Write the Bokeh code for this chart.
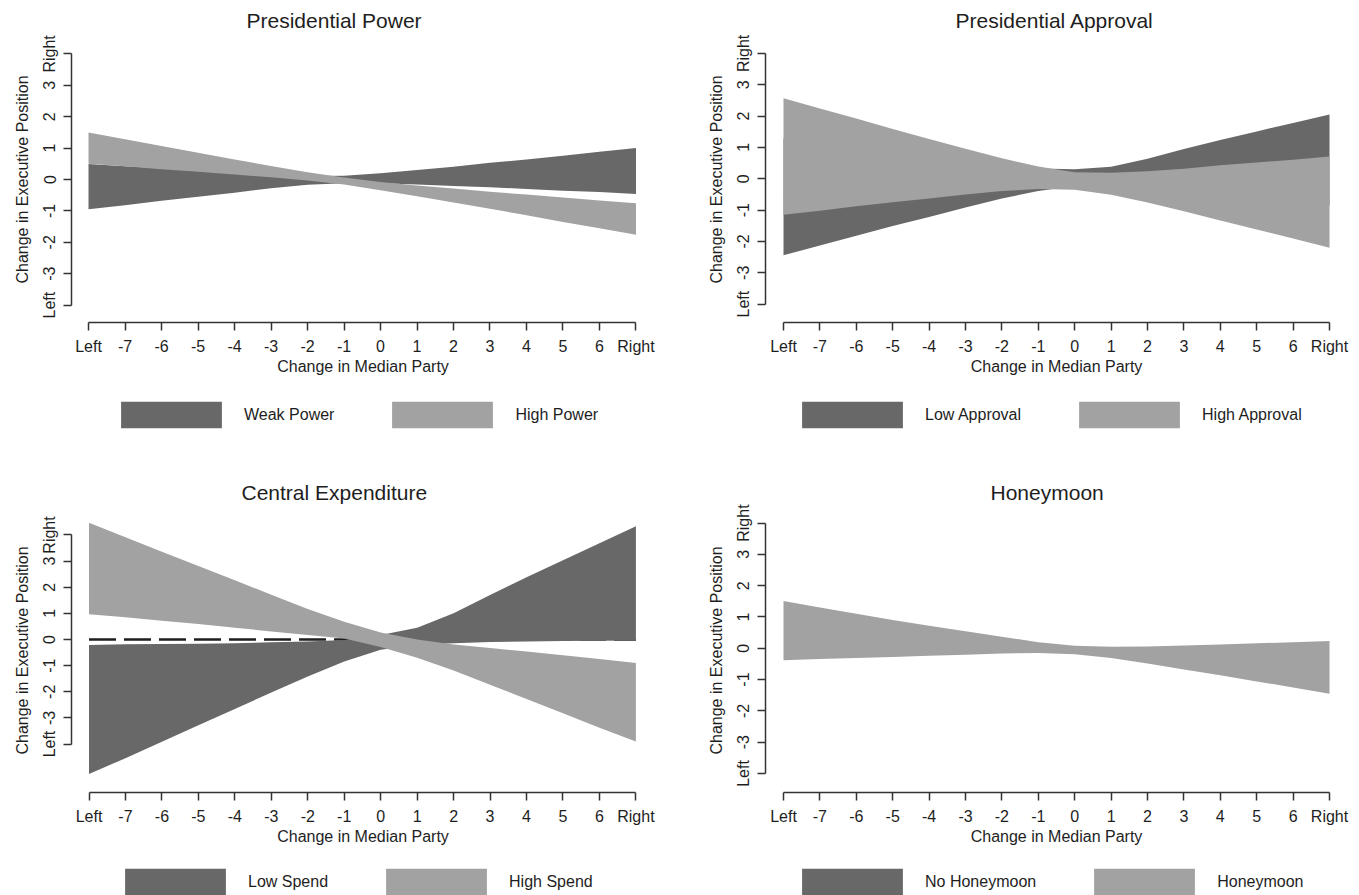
from bokeh.plotting import figure
from bokeh.models import FixedTicker, Legend, LegendItem
from bokeh.layouts import column, row
from bokeh.embed import file_html
from bokeh.resources import INLINE

# ---------------- data ----------------
x_pos = [-8, -7, -6, -5, -4, -3, -2, -1, 0, 1, 2, 3, 4, 5, 6, 7]
x_tick_labels = ["Left", "-7", "-6", "-5", "-4", "-3", "-2", "-1", "0", "1", "2", "3", "4", "5", "6", "Right"]
y_ticks = [-4, -3, -2, -1, 0, 1, 2, 3, 4]
y_tick_labels = ["Left", "-3", "-2", "-1", "0", "1", "2", "3", "Right"]

# Presidential Power
weak_power_upper = [0.49, 0.42, 0.36, 0.29, 0.22, 0.16, 0.11, 0.12, 0.20, 0.30, 0.41, 0.53, 0.64, 0.76, 0.88, 1.00]
weak_power_lower = [-0.95, -0.82, -0.68, -0.55, -0.42, -0.28, -0.17, -0.12, -0.12, -0.16, -0.21, -0.25, -0.30, -0.36, -0.40, -0.46]
high_power_upper = [1.50, 1.28, 1.07, 0.85, 0.64, 0.43, 0.23, 0.06, -0.08, -0.19, -0.29, -0.39, -0.48, -0.57, -0.67, -0.76]
high_power_lower = [0.50, 0.42, 0.33, 0.25, 0.16, 0.07, -0.03, -0.16, -0.34, -0.53, -0.73, -0.93, -1.14, -1.35, -1.55, -1.76]

# Presidential Approval
low_approval_upper = [1.28, 1.13, 0.98, 0.83, 0.68, 0.54, 0.41, 0.33, 0.30, 0.38, 0.64, 0.95, 1.24, 1.51, 1.78, 2.05]
low_approval_lower = [-2.44, -2.13, -1.82, -1.51, -1.22, -0.92, -0.63, -0.39, -0.23, -0.22, -0.29, -0.39, -0.52, -0.63, -0.74, -0.86]
high_approval_upper = [2.57, 2.24, 1.92, 1.59, 1.27, 0.96, 0.65, 0.39, 0.21, 0.19, 0.24, 0.32, 0.43, 0.52, 0.61, 0.71]
high_approval_lower = [-1.15, -1.02, -0.88, -0.75, -0.63, -0.50, -0.39, -0.33, -0.35, -0.51, -0.76, -1.04, -1.33, -1.62, -1.91, -2.20]

# Central Expenditure
low_spend_upper = [-0.21, -0.18, -0.17, -0.16, -0.14, -0.11, -0.08, -0.02, 0.17, 0.45, 1.00, 1.70, 2.38, 3.03, 3.68, 4.33]
low_spend_lower = [-5.15, -4.54, -3.91, -3.28, -2.66, -2.03, -1.42, -0.84, -0.39, -0.20, -0.14, -0.10, -0.08, -0.06, -0.05, -0.04]
high_spend_upper = [4.47, 3.91, 3.36, 2.81, 2.27, 1.71, 1.17, 0.68, 0.27, 0.00, -0.19, -0.33, -0.46, -0.60, -0.75, -0.90]
high_spend_lower = [0.97, 0.85, 0.72, 0.59, 0.45, 0.31, 0.17, 0.04, -0.29, -0.70, -1.19, -1.73, -2.28, -2.82, -3.38, -3.90]

# Honeymoon (the "No Honeymoon" band is hidden under the "Honeymoon" band)
honeymoon_upper = [1.51, 1.30, 1.10, 0.90, 0.72, 0.54, 0.37, 0.19, 0.08, 0.05, 0.06, 0.09, 0.12, 0.16, 0.19, 0.23]
honeymoon_lower = [-0.38, -0.34, -0.31, -0.28, -0.24, -0.21, -0.17, -0.15, -0.19, -0.31, -0.49, -0.68, -0.86, -1.06, -1.25, -1.45]

legend_labels = {
    "power": ["Weak Power", "High Power"],
    "approval": ["Low Approval", "High Approval"],
    "spend": ["Low Spend", "High Spend"],
    "honeymoon": ["No Honeymoon", "Honeymoon"],
}

# ---------------- style ----------------
FONT = "Liberation Sans"
DARK = "#686868"
LIGHT = "#a2a2a2"
INK = "#1e1e1e"
AXIS = "#333333"


def make_panel(title, title_offset, title_standoff, width, height, borders, xr, yr,
               dark_upper, dark_lower, light_upper, light_lower, zero_line):
    bl, br, bt, bb = borders
    p = figure(width=width, height=height, x_range=xr, y_range=yr,
               output_backend="svg", toolbar_location=None,
               min_border_left=bl, min_border_right=br,
               min_border_top=bt, min_border_bottom=bb,
               title=title)
    p.title.align = "left"
    p.title.offset = title_offset
    p.title.text_font = FONT
    p.title.text_font_size = "21px"
    p.title.text_font_style = "normal"
    p.title.text_color = INK
    p.title.standoff = title_standoff

    p.xgrid.visible = False
    p.ygrid.visible = False
    p.outline_line_color = None
    p.background_fill_color = "white"
    p.border_fill_color = "white"

    if zero_line:
        zero = [0 for _ in x_pos]
        p.line(x_pos, zero, line_color=INK, line_width=2.5, line_dash="27 8")

    if dark_upper:
        p.varea(x=x_pos, y1=dark_lower, y2=dark_upper, fill_color=DARK)
    p.varea(x=x_pos, y1=light_lower, y2=light_upper, fill_color=LIGHT)

    xa = p.xaxis[0]
    ya = p.yaxis[0]
    for ax in (xa, ya):
        ax.axis_line_color = AXIS
        ax.axis_line_width = 1.5
        ax.major_tick_line_color = AXIS
        ax.major_tick_line_width = 1.5
        ax.major_tick_in = 0
        ax.major_tick_out = 8
        ax.minor_tick_line_color = None
        ax.major_label_text_font = FONT
        ax.major_label_text_font_size = "16px"
        ax.major_label_text_color = INK
        ax.axis_label_text_font = FONT
        ax.axis_label_text_font_size = "16px"
        ax.axis_label_text_font_style = "normal"
        ax.axis_label_text_color = INK

    xa.ticker = FixedTicker(ticks=x_pos)
    xa.major_label_overrides = {k: v for k, v in zip(x_pos, x_tick_labels)}
    xa.bounds = (x_pos[0], x_pos[-1])
    xa.axis_label = "Change in Median Party"
    xa.major_label_standoff = 7
    xa.axis_label_standoff = 0

    ya.ticker = FixedTicker(ticks=y_ticks)
    ya.major_label_overrides = {k: v for k, v in zip(y_ticks, y_tick_labels)}
    ya.bounds = (y_ticks[0], y_ticks[-1])
    ya.axis_label = "Change in Executive Position"
    ya.major_label_orientation = "vertical"
    ya.major_label_standoff = 5
    ya.axis_label_standoff = 8
    return p


def make_legend(labels, width, height, legend_xy,
                dark_upper, dark_lower, light_upper, light_lower):
    # legend strip: the band renderers are carried along (out of view)
    # only so that the legend can draw their swatches
    lf = figure(width=width, height=height, x_range=(0, 1), y_range=(20, 21),
                output_backend="svg", toolbar_location=None,
                x_axis_location=None, y_axis_location=None,
                min_border_left=0, min_border_right=0,
                min_border_top=0, min_border_bottom=0, title=None)
    lf.xgrid.visible = False
    lf.ygrid.visible = False
    lf.outline_line_color = None
    lf.border_fill_color = "white"
    r_dark = lf.varea(x=x_pos, y1=dark_lower, y2=dark_upper, fill_color=DARK)
    r_light = lf.varea(x=x_pos, y1=light_lower, y2=light_upper, fill_color=LIGHT)
    legend = Legend(items=[LegendItem(label=labels[0], renderers=[r_dark]),
                           LegendItem(label=labels[1], renderers=[r_light])],
                    location=legend_xy, orientation="horizontal",
                    glyph_width=126, glyph_height=33, label_standoff=10,
                    spacing=45, padding=0, margin=0,
                    border_line_color=None, background_fill_alpha=0,
                    label_text_font=FONT, label_text_font_size="16px",
                    label_text_color=INK, label_height=33)
    lf.add_layout(legend, "center")
    return lf


p1 = make_panel("Presidential Power", 175, 9, 684, 388, (71, 30, 36, 66),
                (-8.466, 7.507), (-4.554, 4.554),
                weak_power_upper, weak_power_lower,
                high_power_upper, high_power_lower, False)

p2 = make_panel("Presidential Approval", 190, 9, 675, 388, (81, 12, 36, 66),
                (-8.4945, 7.494), (-4.586, 4.538),
                low_approval_upper, low_approval_lower,
                high_approval_upper, high_approval_lower, False)

p3 = make_panel("Central Expenditure", 170, 10, 684, 415, (71, 30, 68, 63),
                (-8.48, 7.51), (-5.855, 5.013),
                low_spend_upper, low_spend_lower,
                high_spend_upper, high_spend_lower, True)

p4 = make_panel("Honeymoon", 225, 10, 675, 415, (81, 12, 68, 63),
                (-8.4945, 7.494), (-4.609, 4.466),
                [], [],
                honeymoon_upper, honeymoon_lower, False)

l1 = make_legend(legend_labels["power"], 684, 52, (108, 9),
                 weak_power_upper, weak_power_lower, high_power_upper, high_power_lower)
l2 = make_legend(legend_labels["approval"], 675, 52, (105, 9),
                 low_approval_upper, low_approval_lower, high_approval_upper, high_approval_lower)
l3 = make_legend(legend_labels["spend"], 684, 40, (112, -3),
                 low_spend_upper, low_spend_lower, high_spend_upper, high_spend_lower)
l4 = make_legend(legend_labels["honeymoon"], 675, 40, (105, -3),
                 honeymoon_upper, honeymoon_lower, honeymoon_upper, honeymoon_lower)

layout = column(row(p1, p2), row(l1, l2), row(p3, p4), row(l3, l4))
open("out.html", "w").write(file_html(layout, INLINE))
